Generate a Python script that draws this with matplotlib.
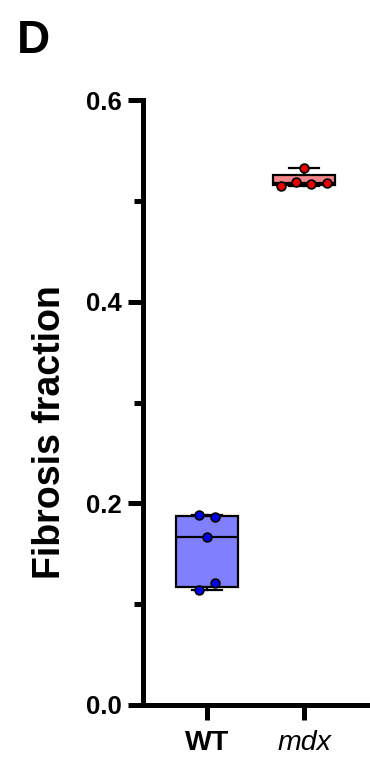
import numpy as np
import matplotlib
matplotlib.use("Agg")
from matplotlib import pyplot as plt

# values
groups = ["WT", "mdx"]
wt_vals = [0.188, 0.186, 0.167, 0.121, 0.114]
mdx_vals = [0.533, 0.515, 0.519, 0.5165, 0.5175]
# horizontal spread of the dots (beeswarm-style)
wt_offsets = [-0.08, 0.08, 0.0, 0.08, -0.08]
mdx_offsets = [0.0, -0.24, -0.08, 0.07, 0.24]

box_colors = ["#8080ff", "#f4868a"]
dot_colors = ["#0000f0", "#e60000"]

plt.rcParams["font.family"] = ["Liberation Sans", "DejaVu Sans"]

W, H = 370, 757
fig = plt.figure(figsize=(W / 100, H / 100), dpi=100)
ax = fig.add_axes([143 / W, 1 - 705 / H, 1 - 143 / W, (705 - 100) / H])


def prism_stats(vals):
    # quartiles the way Prism does it ((n+1)p)
    v = np.asarray(vals)
    q1, med, q3 = np.percentile(v, [25, 50, 75], method="weibull")
    return dict(med=med, q1=q1, q3=q3, whislo=v.min(), whishi=v.max(), fliers=[])


stats = [prism_stats(wt_vals), prism_stats(mdx_vals)]
bp = ax.bxp(stats, positions=[0, 1], widths=0.64, patch_artist=True,
            showfliers=False, capwidths=0.31,
            boxprops=dict(linewidth=1.6, edgecolor="black"),
            medianprops=dict(color="black", linewidth=1.6),
            whiskerprops=dict(color="black", linewidth=1.6),
            capprops=dict(color="black", linewidth=1.6))
for patch, c in zip(bp["boxes"], box_colors):
    patch.set_facecolor(c)

for i, (vals, offs) in enumerate([(wt_vals, wt_offsets), (mdx_vals, mdx_offsets)]):
    ax.scatter(np.array(offs) + i, vals, s=40, color=dot_colors[i],
               edgecolor="black", linewidth=1.2, zorder=5, clip_on=False)

ax.set_xlim(-0.66, 1.68)
ax.set_ylim(0, 0.6)
ax.set_yticks([0, 0.2, 0.4, 0.6])
ax.set_yticklabels(["0.0", "0.2", "0.4", "0.6"])
ax.set_yticks([0.1, 0.3, 0.5], minor=True)
ax.set_xticks([0, 1])
ax.set_xticklabels(groups)
xl = ax.get_xticklabels()
xl[0].set_fontweight("bold")
xl[1].set_fontstyle("italic")

for s in ["top", "right"]:
    ax.spines[s].set_visible(False)
for s in ["left", "bottom"]:
    ax.spines[s].set_linewidth(3.6)
    ax.spines[s].set_capstyle("projecting")

ax.tick_params(axis="y", which="major", length=11, width=3.6, labelsize=18.5, pad=4)
ax.tick_params(axis="y", which="minor", length=6.5, width=3.6)
ax.tick_params(axis="x", which="major", length=11, width=3.6, labelsize=20.5, pad=7)
for t in ax.get_yticklabels():
    t.set_fontweight("bold")

fig.text(50 / W, 1 - 432 / H, "Fibrosis fraction", rotation=90, ha="center",
         va="center", fontsize=27, fontweight="bold")
fig.text(17 / W, 1 - 53 / H, "D", ha="left", va="baseline", fontsize=33,
         fontweight="bold")

fig.savefig("out.png", dpi=100)
